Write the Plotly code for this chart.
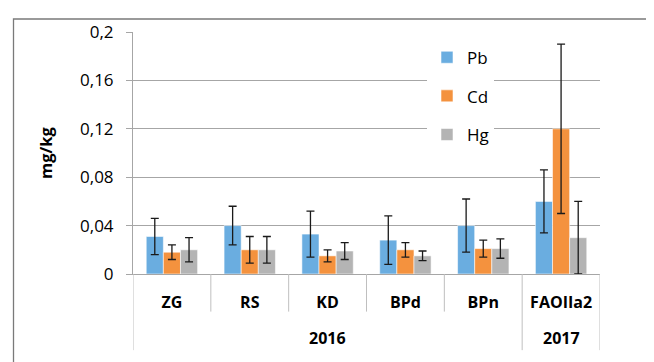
import plotly.graph_objects as go

categories = ["ZG", "RS", "KD", "BPd", "BPn", "FAOIIa2"]
years = ["2016", "2016", "2016", "2016", "2016", "2017"]

pb = [0.031, 0.040, 0.033, 0.028, 0.040, 0.060]
pb_err = [0.015, 0.016, 0.019, 0.020, 0.022, 0.026]
cd = [0.018, 0.020, 0.015, 0.020, 0.021, 0.120]
cd_err = [0.006, 0.011, 0.005, 0.006, 0.007, 0.070]
hg = [0.020, 0.020, 0.019, 0.015, 0.021, 0.030]
hg_err = [0.010, 0.011, 0.007, 0.004, 0.008, 0.030]

y_ticks = [0, 0.04, 0.08, 0.12, 0.16, 0.2]
y_ticklabels = ["0", "0,04", "0,08", "0,12", "0,16", "0,2"]

series = [("Pb", pb, pb_err, "#6AADE0"),
          ("Cd", cd, cd_err, "#F4923E"),
          ("Hg", hg, hg_err, "#B4B4B4")]

fig = go.Figure()
for name, vals, errs, col in series:
    fig.add_trace(go.Bar(
        x=categories, y=vals, name=name, legendgroup=name,
        marker=dict(color=col, line=dict(color="rgba(255,255,255,0.55)", width=1)),
        error_y=dict(type="data", array=errs, visible=True, color="#1a1a1a",
                     thickness=1.3, width=4),
    ))

# page has an 8px body margin; geometry below is in figure pixels
OFF = 8
W, H = 654 - OFF, 362 - OFF
ml, mt = 133 - OFF, 23 - OFF
plot_right, plot_bottom = 600 - OFF, 274 - OFF
mr, mb = W - plot_right, H - plot_bottom
pw, ph = W - ml - mr, H - mt - mb

shapes = []
n = len(categories)
for i in range(n + 1):
    if i == 0 or i == n or years[i] != years[i - 1]:
        depth = 79
    else:
        depth = 39
    shapes.append(dict(type="line", xref="x", yref="paper",
                       x0=i - 0.5, x1=i - 0.5, y0=0, y1=-depth / ph,
                       line=dict(color="#BFBFBF", width=1)))
# outer chart frame
fx0, fx1, fy0 = 13.5 - OFF, 647.5 - OFF, 9.5 - OFF
shapes.append(dict(type="rect", xref="paper", yref="paper",
                   x0=(fx0 - ml) / pw, x1=(fx1 - ml) / pw,
                   y0=-(H + 10 - plot_bottom) / ph, y1=1 + (mt - fy0) / ph,
                   line=dict(color="#7a7a7a", width=1.3), fillcolor="rgba(0,0,0,0)"))

annotations = []
groups = []
for i, yr in enumerate(years):
    if not groups or groups[-1][0] != yr:
        groups.append([yr, []])
    groups[-1][1].append(i)
for yr, idx in groups:
    annotations.append(dict(text="<b>" + yr + "</b>", x=sum(idx) / len(idx), xref="x",
                            y=-66 / ph, yref="paper", showarrow=False,
                            yanchor="middle", font=dict(size=16, color="#000")))

fig.update_layout(
    width=W, height=H,
    margin=dict(l=ml, r=mr, t=mt, b=mb, pad=0),
    paper_bgcolor="white", plot_bgcolor="white",
    font=dict(family="Open Sans", color="#000"),
    barmode="group", bargap=0.34, bargroupgap=0,
    showlegend=True,
    legend=dict(x=(427 - OFF - ml) / pw, y=1 - (31 - OFF - mt) / ph,
                xanchor="left", yanchor="top",
                bgcolor="white", font=dict(size=17), tracegroupgap=13.5,
                traceorder="grouped"),
    shapes=shapes, annotations=annotations,
)
fig.update_yaxes(
    range=[0, 0.2], tickvals=y_ticks, ticktext=y_ticklabels,
    showgrid=True, gridcolor="#A6A6A6", gridwidth=1,
    showline=True, linecolor="#A6A6A6", linewidth=1,
    ticks="outside", ticklen=6, tickcolor="#A6A6A6",
    ticklabelstandoff=9,
    tickfont=dict(size=17),
    zeroline=False,
    title=dict(text="<b>mg/kg</b>", font=dict(size=16.5), standoff=23),
)
fig.update_xaxes(
    type="category", range=[-0.5, n - 0.5],
    showline=True, linecolor="#A6A6A6", linewidth=1,
    ticks="", tickfont=dict(size=16),
    tickvals=categories, ticktext=["<b>" + c + "</b>" for c in categories],
    ticklabelstandoff=14,
)

fig.write_html("out.html")
